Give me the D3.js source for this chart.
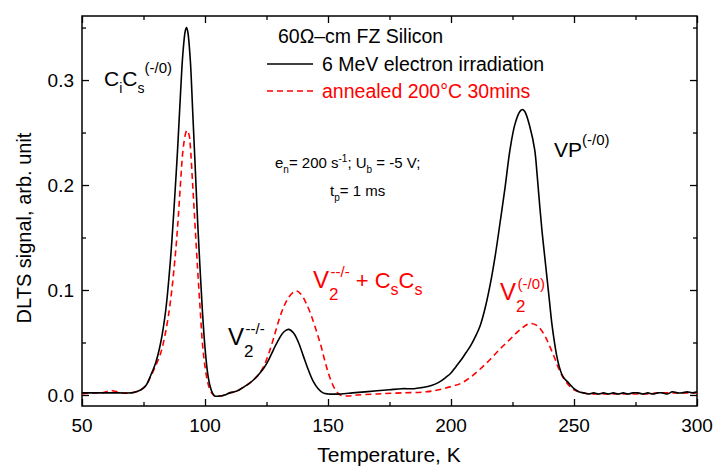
<!DOCTYPE html>
<html><head><meta charset="utf-8">
<script src="https://cdn.jsdelivr.net/npm/d3@7"></script>
<style>body{margin:0;background:#fff}svg{display:block}text{font-family:"Liberation Sans",Arial,sans-serif}</style>
</head><body><svg id="c" width="714" height="468"></svg>
<script>
// Temperature (K) and DLTS signal for the as-irradiated sample (black solid)
const tempIrr = [50,55,60,65,70,72,74,76,78,80,82,84,86,88,89,90,91,92,92.5,93,94,95,96,97,98,99,100,101,102,103,104,106,108,110,112,114,116,118,120,122,124,126,128,130,132,134,136,138,140,142,144,146,148,150,155,160,165,170,175,180,185,188,192,195,198,200,202,204,206,208,210,212,214,216,218,220,222,224,226,228,229,230,232,234,235,236,237,238,239,240,241,242,243,244,245,246,248,250,252,254,256,258,260,262,264,266,268,270,272,274,276,278,280,282,284,286,288,290,292,294,296,298,300];
const sigIrr  = [0.002,0.002,0.002,0.002,0.002,0.003,0.005,0.009,0.019,0.031,0.050,0.080,0.130,0.200,0.240,0.285,0.325,0.347,0.350,0.346,0.320,0.270,0.218,0.165,0.120,0.078,0.045,0.022,0.009,0.002,-0.001,-0.001,0.000,0.002,0.003,0.005,0.008,0.011,0.015,0.020,0.026,0.034,0.044,0.053,0.060,0.0625,0.059,0.050,0.037,0.024,0.013,0.006,0.002,0.001,0.001,0.002,0.003,0.004,0.005,0.006,0.006,0.007,0.009,0.012,0.017,0.021,0.027,0.033,0.040,0.047,0.056,0.067,0.084,0.106,0.133,0.165,0.198,0.234,0.258,0.270,0.272,0.270,0.256,0.234,0.210,0.182,0.156,0.134,0.112,0.090,0.068,0.051,0.037,0.027,0.020,0.016,0.011,0.006,0.003,0.002,0.001,0.002,0.001,0.002,0.001,0.002,0.001,0.002,0.001,0.002,0.002,0.001,0.002,0.001,0.002,0.002,0.001,0.003,0.002,0.002,0.003,0.002,0.003];
// Annealed 200°C 30 mins (red dashed)
const tempAnn = [50,54,58,62,66,70,72,74,76,78,80,82,84,86,88,89,90,91,92,92.6,93.5,94,95,96,97,98,99,100,101,102,103,104,106,108,110,112,114,116,118,120,122,124,126,128,130,132,134,136,137.3,139,141,143,145,147,149,151,153,155,158,162,170,180,190,195,200,204,208,212,216,220,224,228,232,235,238,240,242,244,246,248,250,252,256,260,265,270,275,280,285,290,295,300];
const sigAnn  = [0.001,0.002,0.002,0.004,0.002,0.002,0.003,0.005,0.009,0.018,0.028,0.040,0.060,0.090,0.135,0.165,0.200,0.232,0.248,0.252,0.248,0.238,0.200,0.160,0.120,0.083,0.048,0.027,0.013,0.005,0.001,-0.001,-0.001,0.000,0.002,0.003,0.005,0.008,0.011,0.015,0.020,0.028,0.040,0.055,0.071,0.084,0.093,0.098,0.099,0.096,0.088,0.077,0.063,0.048,0.030,0.015,0.005,0.000,-0.001,0.000,0.001,0.002,0.003,0.005,0.008,0.011,0.017,0.025,0.034,0.044,0.053,0.062,0.068,0.066,0.057,0.047,0.036,0.024,0.015,0.009,0.005,0.003,0.001,0.001,0.001,0.001,0.001,0.001,0.002,0.002,0.002,0.002];
const xMajor = [50,100,150,200,250,300];
const xMinor = [75,125,175,225,275];
const yMajor = [0.0,0.1,0.2,0.3];
const yMinor = [0.05,0.15,0.25,0.35];

const svg = d3.select("#c");
const L=82,R=697,T=16,B=406;
const x = d3.scaleLinear().domain([50,300]).range([L,R]);
const y = d3.scaleLinear().domain([-0.0105,0.3610]).range([B,T]);

const g = svg.append("g");
function axisTicks(axisFn, scale, vals, len, transform){
  g.append("g").attr("transform",transform)
   .call(axisFn(scale).tickValues(vals).tickSize(len).tickFormat(""))
   .call(s=>{s.select(".domain").remove(); s.selectAll("line").attr("stroke","#000").attr("stroke-width",1.3);});
}
axisTicks(d3.axisTop,x,xMajor,7,`translate(0,${B})`);
axisTicks(d3.axisTop,x,xMinor,4,`translate(0,${B})`);
axisTicks(d3.axisBottom,x,xMajor,7,`translate(0,${T})`);
axisTicks(d3.axisBottom,x,xMinor,4,`translate(0,${T})`);
axisTicks(d3.axisRight,y,yMajor,7,`translate(${L},0)`);
axisTicks(d3.axisRight,y,yMinor,4,`translate(${L},0)`);
axisTicks(d3.axisLeft,y,yMajor,7,`translate(${R},0)`);
axisTicks(d3.axisLeft,y,yMinor,4,`translate(${R},0)`);

g.append("rect").attr("x",L).attr("y",T).attr("width",R-L).attr("height",B-T)
 .attr("fill","none").attr("stroke","#000").attr("stroke-width",1.5);

g.selectAll(".xl").data(xMajor).enter().append("text")
 .attr("x",d=>x(d)).attr("y",432).attr("text-anchor","middle").attr("font-size",19).text(d=>d);
g.selectAll(".yl").data(yMajor).enter().append("text")
 .attr("x",74).attr("y",d=>y(d)+7).attr("text-anchor","end").attr("font-size",19).text(d=>d.toFixed(1));

svg.append("text").attr("x",389).attr("y",462).attr("text-anchor","middle").attr("font-size",21).text("Temperature, K");
svg.append("text").attr("transform","translate(31,228) rotate(-90)").attr("text-anchor","middle").attr("font-size",20).text("DLTS signal, arb. unit");

svg.append("clipPath").attr("id","cl").append("rect").attr("x",L).attr("y",T).attr("width",R-L).attr("height",B-T);
const line = d3.line().x(d=>x(d[0])).y(d=>y(d[1])).curve(d3.curveCatmullRom.alpha(0.5));
svg.append("path").datum(tempAnn.map((t,i)=>[t,sigAnn[i]])).attr("clip-path","url(#cl)")
 .attr("d",line).attr("fill","none").attr("stroke","#ff0000").attr("stroke-width",1.6).attr("stroke-dasharray","6,4");
svg.append("path").datum(tempIrr.map((t,i)=>[t,sigIrr[i]])).attr("clip-path","url(#cl)")
 .attr("d",line).attr("fill","none").attr("stroke","#000").attr("stroke-width",1.6);

// legend
svg.append("text").attr("x",278).attr("y",43).attr("font-size",19.5).text("60Ω–cm FZ Silicon");
svg.append("line").attr("x1",267).attr("x2",313).attr("y1",64).attr("y2",64).attr("stroke","#000").attr("stroke-width",1.6);
svg.append("text").attr("x",322).attr("y",71).attr("font-size",19.5).text("6 MeV electron irradiation");
svg.append("line").attr("x1",267).attr("x2",313).attr("y1",91).attr("y2",91).attr("stroke","#ff0000").attr("stroke-width",1.6).attr("stroke-dasharray","6,4");
svg.append("text").attr("x",322).attr("y",98).attr("font-size",19.5).attr("fill","#ff0000").text("annealed 200°C 30mins");

function label(xp,yp,color,parts){
  const t = svg.append("text").attr("x",xp).attr("y",yp).attr("fill",color);
  parts.forEach(p=>{ t.append("tspan").attr("font-size",p[1]).attr("dy",p[2]||0).attr("dx",p[3]||0).text(p[0]); });
}
label(104,86,"#000",[["C",21],["i",14,7],["C",21,-7],["s",14,7],["(-/0)",15,-20]]);
label(554,157,"#000",[["VP",21],["(-/0)",15,-12]]);
label(228,345,"#000",[["V",24],["2",17,12],["--/-",15,-23,-8]]);
label(313,288,"#ff0000",[["V",24],["2",17,12],["--/-",15,-23,-8],[" + C",22,11],["s",16,7],["C",22,-7],["s",16,7]]);
label(500,300,"#ff0000",[["V",24],["2",17,12],["(-/0)",15,-23,-8]]);
label(275,168,"#000",[["e",15],["n",10,5],["= 200 s",15,-5],["-1",10,-6],["; U",15,6],["b",10,5],[" = -5 V;",15,-5]]);
label(330,196,"#000",[["t",15],["p",10,5],["= 1 ms",15,-5]]);
</script></body></html>
